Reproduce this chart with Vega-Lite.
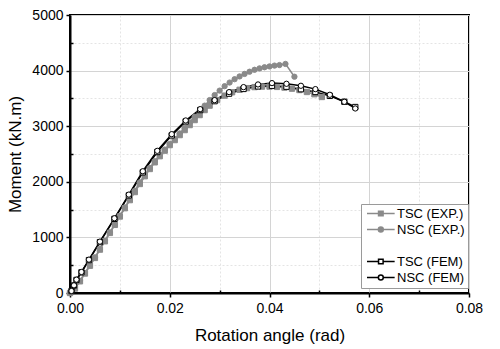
{
  "$schema": "https://vega.github.io/schema/vega-lite/v6.json",
  "autosize": "none",
  "width": 399,
  "height": 278,
  "padding": {"left": 70, "top": 15, "right": 31, "bottom": 56},
  "background": "white",
  "config": {
    "font": "Liberation Sans",
    "view": {"stroke": "black", "strokeWidth": 2},
    "axis": {
      "domainColor": "black",
      "domainWidth": 2,
      "tickColor": "black",
      "tickWidth": 1.5,
      "labelColor": "black",
      "labelFont": "Liberation Sans",
      "labelFontSize": 14,
      "titleFont": "Liberation Sans",
      "titleFontSize": 17,
      "titleFontWeight": "normal",
      "titleColor": "black",
      "gridColor": "#d4d4d4",
      "gridWidth": 1
    },
    "legend": {
      "title": null,
      "orient": "none",
      "legendX": 291,
      "legendY": 189,
      "padding": 3,
      "strokeColor": "#9a9a9a",
      "fillColor": "white",
      "symbolSize": 49,
      "symbolStrokeWidth": 1.5,
      "symbolOpacity": 1,
      "labelFont": "Liberation Sans",
      "labelFontSize": 13,
      "labelColor": "black",
      "labelOffset": 20,
      "rowPadding": 2
    }
  },
  "datasets": {
    "curves": [
      {"s": "NSC (EXP.)", "x": 0.0, "y": 0},
      {"s": "NSC (EXP.)", "x": 0.001, "y": 90},
      {"s": "NSC (EXP.)", "x": 0.002, "y": 220},
      {"s": "NSC (EXP.)", "x": 0.003, "y": 360},
      {"s": "NSC (EXP.)", "x": 0.004, "y": 500},
      {"s": "NSC (EXP.)", "x": 0.005, "y": 640},
      {"s": "NSC (EXP.)", "x": 0.006, "y": 790},
      {"s": "NSC (EXP.)", "x": 0.007, "y": 940},
      {"s": "NSC (EXP.)", "x": 0.008, "y": 1090},
      {"s": "NSC (EXP.)", "x": 0.009, "y": 1240},
      {"s": "NSC (EXP.)", "x": 0.010, "y": 1390},
      {"s": "NSC (EXP.)", "x": 0.011, "y": 1540},
      {"s": "NSC (EXP.)", "x": 0.012, "y": 1690},
      {"s": "NSC (EXP.)", "x": 0.013, "y": 1840},
      {"s": "NSC (EXP.)", "x": 0.014, "y": 1990},
      {"s": "NSC (EXP.)", "x": 0.015, "y": 2130},
      {"s": "NSC (EXP.)", "x": 0.016, "y": 2250},
      {"s": "NSC (EXP.)", "x": 0.017, "y": 2370},
      {"s": "NSC (EXP.)", "x": 0.018, "y": 2480},
      {"s": "NSC (EXP.)", "x": 0.019, "y": 2580},
      {"s": "NSC (EXP.)", "x": 0.020, "y": 2680},
      {"s": "NSC (EXP.)", "x": 0.021, "y": 2770},
      {"s": "NSC (EXP.)", "x": 0.022, "y": 2870},
      {"s": "NSC (EXP.)", "x": 0.023, "y": 2970},
      {"s": "NSC (EXP.)", "x": 0.024, "y": 3070},
      {"s": "NSC (EXP.)", "x": 0.025, "y": 3170},
      {"s": "NSC (EXP.)", "x": 0.026, "y": 3270},
      {"s": "NSC (EXP.)", "x": 0.027, "y": 3370},
      {"s": "NSC (EXP.)", "x": 0.028, "y": 3470},
      {"s": "NSC (EXP.)", "x": 0.029, "y": 3560},
      {"s": "NSC (EXP.)", "x": 0.030, "y": 3640},
      {"s": "NSC (EXP.)", "x": 0.031, "y": 3720},
      {"s": "NSC (EXP.)", "x": 0.032, "y": 3785},
      {"s": "NSC (EXP.)", "x": 0.033, "y": 3845},
      {"s": "NSC (EXP.)", "x": 0.034, "y": 3895},
      {"s": "NSC (EXP.)", "x": 0.035, "y": 3940},
      {"s": "NSC (EXP.)", "x": 0.036, "y": 3980},
      {"s": "NSC (EXP.)", "x": 0.037, "y": 4015},
      {"s": "NSC (EXP.)", "x": 0.038, "y": 4040},
      {"s": "NSC (EXP.)", "x": 0.039, "y": 4060},
      {"s": "NSC (EXP.)", "x": 0.040, "y": 4075},
      {"s": "NSC (EXP.)", "x": 0.041, "y": 4090},
      {"s": "NSC (EXP.)", "x": 0.042, "y": 4100},
      {"s": "NSC (EXP.)", "x": 0.0432, "y": 4120},
      {"s": "NSC (EXP.)", "x": 0.045, "y": 3890},

      {"s": "TSC (EXP.)", "x": 0.0, "y": 0},
      {"s": "TSC (EXP.)", "x": 0.001, "y": 80},
      {"s": "TSC (EXP.)", "x": 0.002, "y": 210},
      {"s": "TSC (EXP.)", "x": 0.003, "y": 350},
      {"s": "TSC (EXP.)", "x": 0.004, "y": 490},
      {"s": "TSC (EXP.)", "x": 0.005, "y": 630},
      {"s": "TSC (EXP.)", "x": 0.006, "y": 780},
      {"s": "TSC (EXP.)", "x": 0.007, "y": 930},
      {"s": "TSC (EXP.)", "x": 0.008, "y": 1080},
      {"s": "TSC (EXP.)", "x": 0.009, "y": 1225},
      {"s": "TSC (EXP.)", "x": 0.010, "y": 1375},
      {"s": "TSC (EXP.)", "x": 0.011, "y": 1525},
      {"s": "TSC (EXP.)", "x": 0.012, "y": 1670},
      {"s": "TSC (EXP.)", "x": 0.013, "y": 1815},
      {"s": "TSC (EXP.)", "x": 0.014, "y": 1960},
      {"s": "TSC (EXP.)", "x": 0.015, "y": 2100},
      {"s": "TSC (EXP.)", "x": 0.016, "y": 2230},
      {"s": "TSC (EXP.)", "x": 0.017, "y": 2350},
      {"s": "TSC (EXP.)", "x": 0.018, "y": 2460},
      {"s": "TSC (EXP.)", "x": 0.019, "y": 2560},
      {"s": "TSC (EXP.)", "x": 0.020, "y": 2660},
      {"s": "TSC (EXP.)", "x": 0.021, "y": 2750},
      {"s": "TSC (EXP.)", "x": 0.022, "y": 2840},
      {"s": "TSC (EXP.)", "x": 0.023, "y": 2930},
      {"s": "TSC (EXP.)", "x": 0.024, "y": 3020},
      {"s": "TSC (EXP.)", "x": 0.025, "y": 3110},
      {"s": "TSC (EXP.)", "x": 0.026, "y": 3200},
      {"s": "TSC (EXP.)", "x": 0.027, "y": 3290},
      {"s": "TSC (EXP.)", "x": 0.028, "y": 3370},
      {"s": "TSC (EXP.)", "x": 0.0295, "y": 3470},
      {"s": "TSC (EXP.)", "x": 0.031, "y": 3550},
      {"s": "TSC (EXP.)", "x": 0.0325, "y": 3610},
      {"s": "TSC (EXP.)", "x": 0.034, "y": 3655},
      {"s": "TSC (EXP.)", "x": 0.0355, "y": 3685},
      {"s": "TSC (EXP.)", "x": 0.037, "y": 3703},
      {"s": "TSC (EXP.)", "x": 0.0385, "y": 3712},
      {"s": "TSC (EXP.)", "x": 0.040, "y": 3712},
      {"s": "TSC (EXP.)", "x": 0.0415, "y": 3706},
      {"s": "TSC (EXP.)", "x": 0.043, "y": 3694},
      {"s": "TSC (EXP.)", "x": 0.0445, "y": 3675},
      {"s": "TSC (EXP.)", "x": 0.046, "y": 3650},
      {"s": "TSC (EXP.)", "x": 0.0475, "y": 3615},
      {"s": "TSC (EXP.)", "x": 0.049, "y": 3575},
      {"s": "TSC (EXP.)", "x": 0.0505, "y": 3525},

      {"s": "TSC (FEM)", "x": 0.0003, "y": 36},
      {"s": "TSC (FEM)", "x": 0.0008, "y": 135},
      {"s": "TSC (FEM)", "x": 0.0013, "y": 235},
      {"s": "TSC (FEM)", "x": 0.0023, "y": 372},
      {"s": "TSC (FEM)", "x": 0.0038, "y": 592},
      {"s": "TSC (FEM)", "x": 0.006, "y": 915},
      {"s": "TSC (FEM)", "x": 0.0089, "y": 1333},
      {"s": "TSC (FEM)", "x": 0.0118, "y": 1755},
      {"s": "TSC (FEM)", "x": 0.0146, "y": 2170},
      {"s": "TSC (FEM)", "x": 0.0175, "y": 2535},
      {"s": "TSC (FEM)", "x": 0.0204, "y": 2835},
      {"s": "TSC (FEM)", "x": 0.0232, "y": 3085},
      {"s": "TSC (FEM)", "x": 0.0261, "y": 3290},
      {"s": "TSC (FEM)", "x": 0.029, "y": 3450},
      {"s": "TSC (FEM)", "x": 0.0319, "y": 3585},
      {"s": "TSC (FEM)", "x": 0.0348, "y": 3670},
      {"s": "TSC (FEM)", "x": 0.0377, "y": 3715},
      {"s": "TSC (FEM)", "x": 0.0405, "y": 3727},
      {"s": "TSC (FEM)", "x": 0.0434, "y": 3710},
      {"s": "TSC (FEM)", "x": 0.0463, "y": 3665},
      {"s": "TSC (FEM)", "x": 0.0492, "y": 3615},
      {"s": "TSC (FEM)", "x": 0.0521, "y": 3545},
      {"s": "TSC (FEM)", "x": 0.055, "y": 3440},
      {"s": "TSC (FEM)", "x": 0.0572, "y": 3345},

      {"s": "NSC (FEM)", "x": 0.0003, "y": 36},
      {"s": "NSC (FEM)", "x": 0.0008, "y": 138},
      {"s": "NSC (FEM)", "x": 0.0013, "y": 240},
      {"s": "NSC (FEM)", "x": 0.0023, "y": 378},
      {"s": "NSC (FEM)", "x": 0.0038, "y": 600},
      {"s": "NSC (FEM)", "x": 0.006, "y": 924},
      {"s": "NSC (FEM)", "x": 0.0089, "y": 1344},
      {"s": "NSC (FEM)", "x": 0.0118, "y": 1770},
      {"s": "NSC (FEM)", "x": 0.0146, "y": 2190},
      {"s": "NSC (FEM)", "x": 0.0175, "y": 2557},
      {"s": "NSC (FEM)", "x": 0.0204, "y": 2857},
      {"s": "NSC (FEM)", "x": 0.0232, "y": 3103},
      {"s": "NSC (FEM)", "x": 0.0261, "y": 3307},
      {"s": "NSC (FEM)", "x": 0.029, "y": 3469},
      {"s": "NSC (FEM)", "x": 0.0319, "y": 3613},
      {"s": "NSC (FEM)", "x": 0.0348, "y": 3703},
      {"s": "NSC (FEM)", "x": 0.0377, "y": 3751},
      {"s": "NSC (FEM)", "x": 0.0405, "y": 3775},
      {"s": "NSC (FEM)", "x": 0.0434, "y": 3763},
      {"s": "NSC (FEM)", "x": 0.0463, "y": 3727},
      {"s": "NSC (FEM)", "x": 0.0492, "y": 3667},
      {"s": "NSC (FEM)", "x": 0.0521, "y": 3565},
      {"s": "NSC (FEM)", "x": 0.055, "y": 3439},
      {"s": "NSC (FEM)", "x": 0.0572, "y": 3319}
    ]
  },
  "data": {"name": "curves"},
  "encoding": {
    "x": {
      "field": "x", "type": "quantitative",
      "scale": {"domain": [0, 0.08], "nice": false, "zero": false},
      "axis": {
        "title": "Rotation angle (rad)",
        "values": [0, 0.01, 0.02, 0.03, 0.04, 0.05, 0.06, 0.07, 0.08],
        "labelExpr": "round(datum.value*100) % 2 == 0 ? format(datum.value, '.2f') : ''",
        "tickSize": {"condition": {"test": "round(datum.value*100) % 2 == 0", "value": 4}, "value": -3},
        "gridDash": {"condition": {"test": "round(datum.value*100) % 2 == 0", "value": []}, "value": [2, 2]},
        "gridColor": {"condition": {"test": "round(datum.value*100) % 2 == 0", "value": "#d4d4d4"}, "value": "#e4e4e4"},
        "labelPadding": 4,
        "titlePadding": 12,
        "labelFlush": false
      }
    },
    "y": {
      "field": "y", "type": "quantitative",
      "scale": {"domain": [0, 5000], "nice": false},
      "axis": {
        "title": "Moment (kN.m)",
        "values": [0, 500, 1000, 1500, 2000, 2500, 3000, 3500, 4000, 4500, 5000],
        "labelExpr": "datum.value % 1000 == 0 ? format(datum.value, 'd') : ''",
        "tickSize": {"condition": {"test": "datum.value % 1000 == 0", "value": 4}, "value": -3},
        "gridDash": {"condition": {"test": "datum.value % 1000 == 0", "value": []}, "value": [2, 2]},
        "gridColor": {"condition": {"test": "datum.value % 1000 == 0", "value": "#d4d4d4"}, "value": "#e4e4e4"},
        "labelPadding": 3,
        "titlePadding": 7,
        "labelFlush": false
      }
    }
  },
  "layer": [
    {
      "mark": {"type": "line", "strokeWidth": 1.5},
      "encoding": {
        "detail": {"field": "s"},
        "stroke": {
          "field": "s", "type": "nominal",
          "scale": {"domain": ["TSC (EXP.)", "NSC (EXP.)", "TSC (FEM)", "NSC (FEM)"], "range": ["#8a8a8a", "#8a8a8a", "#000000", "#000000"]},
          "legend": null
        },
        "order": {"field": "x"}
      }
    },
    {
      "mark": {"type": "point", "filled": false, "opacity": 1, "strokeWidth": 1},
      "encoding": {
        "stroke": {
          "field": "s", "type": "nominal",
          "scale": {"domain": ["TSC (EXP.)", "NSC (EXP.)", "TSC (FEM)", "NSC (FEM)"], "range": ["#8a8a8a", "#8a8a8a", "#000000", "#000000"]},
          "legend": null
        },
        "fill": {
          "field": "s", "type": "nominal",
          "scale": {"domain": ["TSC (EXP.)", "NSC (EXP.)", "TSC (FEM)", "NSC (FEM)"], "range": ["#8a8a8a", "#8a8a8a", "#ffffff", "#ffffff"]},
          "legend": null
        },
        "shape": {
          "field": "s", "type": "nominal",
          "scale": {"domain": ["TSC (EXP.)", "NSC (EXP.)", "TSC (FEM)", "NSC (FEM)"], "range": ["square", "circle", "square", "circle"]},
          "legend": null
        },
        "size": {"value": 28}
      }
    },
    {
      "mark": {"type": "point", "opacity": 0, "filled": false},
      "encoding": {
        "stroke": {
          "field": "s", "type": "nominal",
          "scale": {"domain": ["TSC (EXP.)", "NSC (EXP.)", " ", "TSC (FEM)", "NSC (FEM)"], "range": ["#8a8a8a", "#8a8a8a", "#ffffff", "#000000", "#000000"]},
          "legend": {}
        },
        "fill": {
          "field": "s", "type": "nominal",
          "scale": {"domain": ["TSC (EXP.)", "NSC (EXP.)", " ", "TSC (FEM)", "NSC (FEM)"], "range": ["#8a8a8a", "#8a8a8a", "#ffffff", "#ffffff", "#ffffff"]},
          "legend": {}
        },
        "shape": {
          "field": "s", "type": "nominal",
          "scale": {
            "domain": ["TSC (EXP.)", "NSC (EXP.)", " ", "TSC (FEM)", "NSC (FEM)"],
            "range": [
              "M-1,0H2.3M3.6,0H6.9M2.3,-0.65H3.6V0.65H2.3Z",
              "M-1,0H2.25M3.65,0H6.9M2.25,0A0.7,0.7 0 1,0 3.65,0A0.7,0.7 0 1,0 2.25,0Z",
              "M0,0Z",
              "M-1,0H2.3M3.6,0H6.9M2.3,-0.65H3.6V0.65H2.3Z",
              "M-1,0H2.25M3.65,0H6.9M2.25,0A0.7,0.7 0 1,0 3.65,0A0.7,0.7 0 1,0 2.25,0Z"
            ]
          },
          "legend": {"encode": {"symbols": {"update": {"opacity": {"value": 1}}}}}
        }
      }
    }
  ],
  "resolve": {
    "scale": {"shape": "independent", "stroke": "independent", "fill": "independent"},
    "legend": {"shape": "independent", "stroke": "independent", "fill": "independent"}
  }
}
